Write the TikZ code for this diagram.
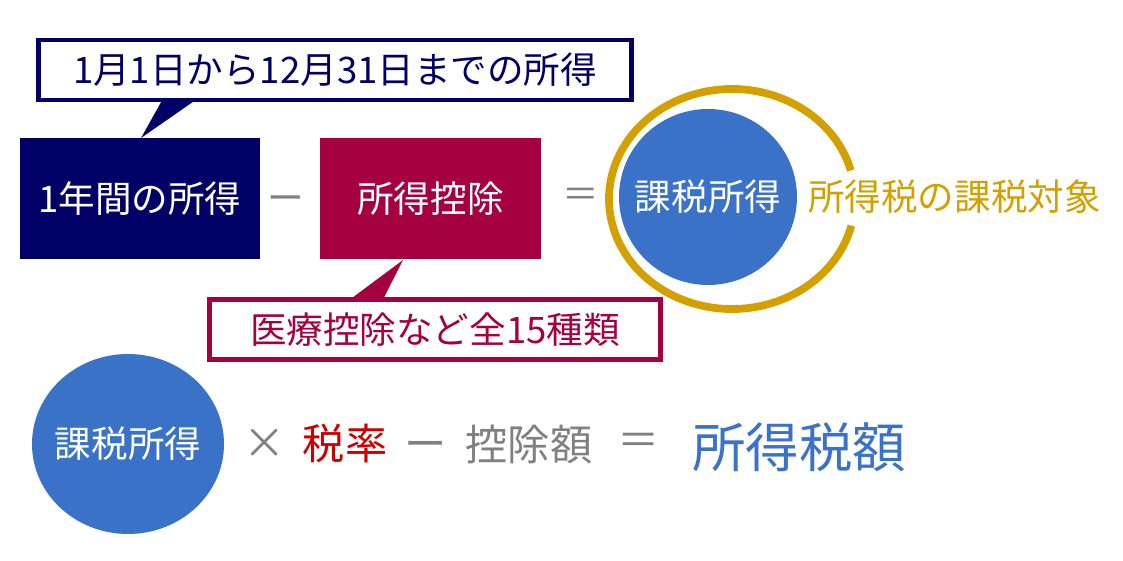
\documentclass[tikz,border=0pt]{standalone}
\usepackage{fontspec}
\setmainfont{Noto Sans CJK JP}
\definecolor{navy}{RGB}{0,0,102}
\definecolor{crimson}{RGB}{165,0,64}
\definecolor{skyblue}{RGB}{58,114,200}
\definecolor{gold}{RGB}{212,160,0}
\definecolor{midgray}{RGB}{128,128,128}
\definecolor{ratered}{RGB}{204,0,0}
\begin{document}
\begin{tikzpicture}[x=0.025cm,y=0.025cm,
  txt/.style={font=\fontsize{26}{30}\selectfont,inner sep=0pt},
  bigtxt/.style={font=\fontsize{30}{34}\selectfont,inner sep=0pt},
  box/.style={txt,minimum height=3.025cm,text=white},
  note/.style={txt,line width=3.5pt,fill=white,minimum height=1.5cm}]
\useasboundingbox (0,0) rectangle (1123,560);
% first line
\node[note,draw=navy,text=navy,minimum width=14.825cm] (period) at (335,490) {1月1日から12月31日までの所得};
\fill[navy] (162,459.5)--(141,422)--(195,459.5)--cycle;
\node[box,fill=navy,minimum width=6cm] (income) at (140,361.5) {1年間の所得};
\node[txt,text=midgray] (minus) at (286,356) {ー};
\node[box,fill=crimson,minimum width=5.525cm] (deduction) at (430.5,361.5) {所得控除};
\node[txt,text=midgray] (equal) at (581,362) {＝};
\draw[gold,line width=5.5pt] (732,361) ++(15:123 and 110) arc[start angle=15,end angle=346,x radius=123,y radius=110];
\fill[skyblue] (708,363) ellipse[x radius=89,y radius=88];
\node[txt,text=white] (taxable) at (708,363) {課税所得};
\node[txt,text=gold,anchor=west] (target) at (808,363) {所得税の課税対象};
\node[note,draw=crimson,text=crimson,minimum width=11.275cm] (kinds) at (435,230.5) {医療控除など全15種類};
\fill[crimson] (350,260.5)--(403,300)--(383,260.5)--cycle;
% second line
\fill[skyblue] (128,116) ellipse[x radius=96,y radius=90];
\node[txt,text=white] (base) at (128,116) {課税所得};
\node[bigtxt,text=midgray] (times) at (265,116) {×};
\node[bigtxt,text=ratered] (rate) at (345,116) {税率};
\node[bigtxt,text=midgray] (less) at (426,110) {ー};
\node[bigtxt,text=midgray] (credit) at (529,116) {控除額};
\node[bigtxt,text=midgray] (gives) at (639,116) {＝};
\node[txt,font=\fontsize{38}{42}\selectfont,text=skyblue] (tax) at (799,113) {所得税額};
\end{tikzpicture}
\end{document}
